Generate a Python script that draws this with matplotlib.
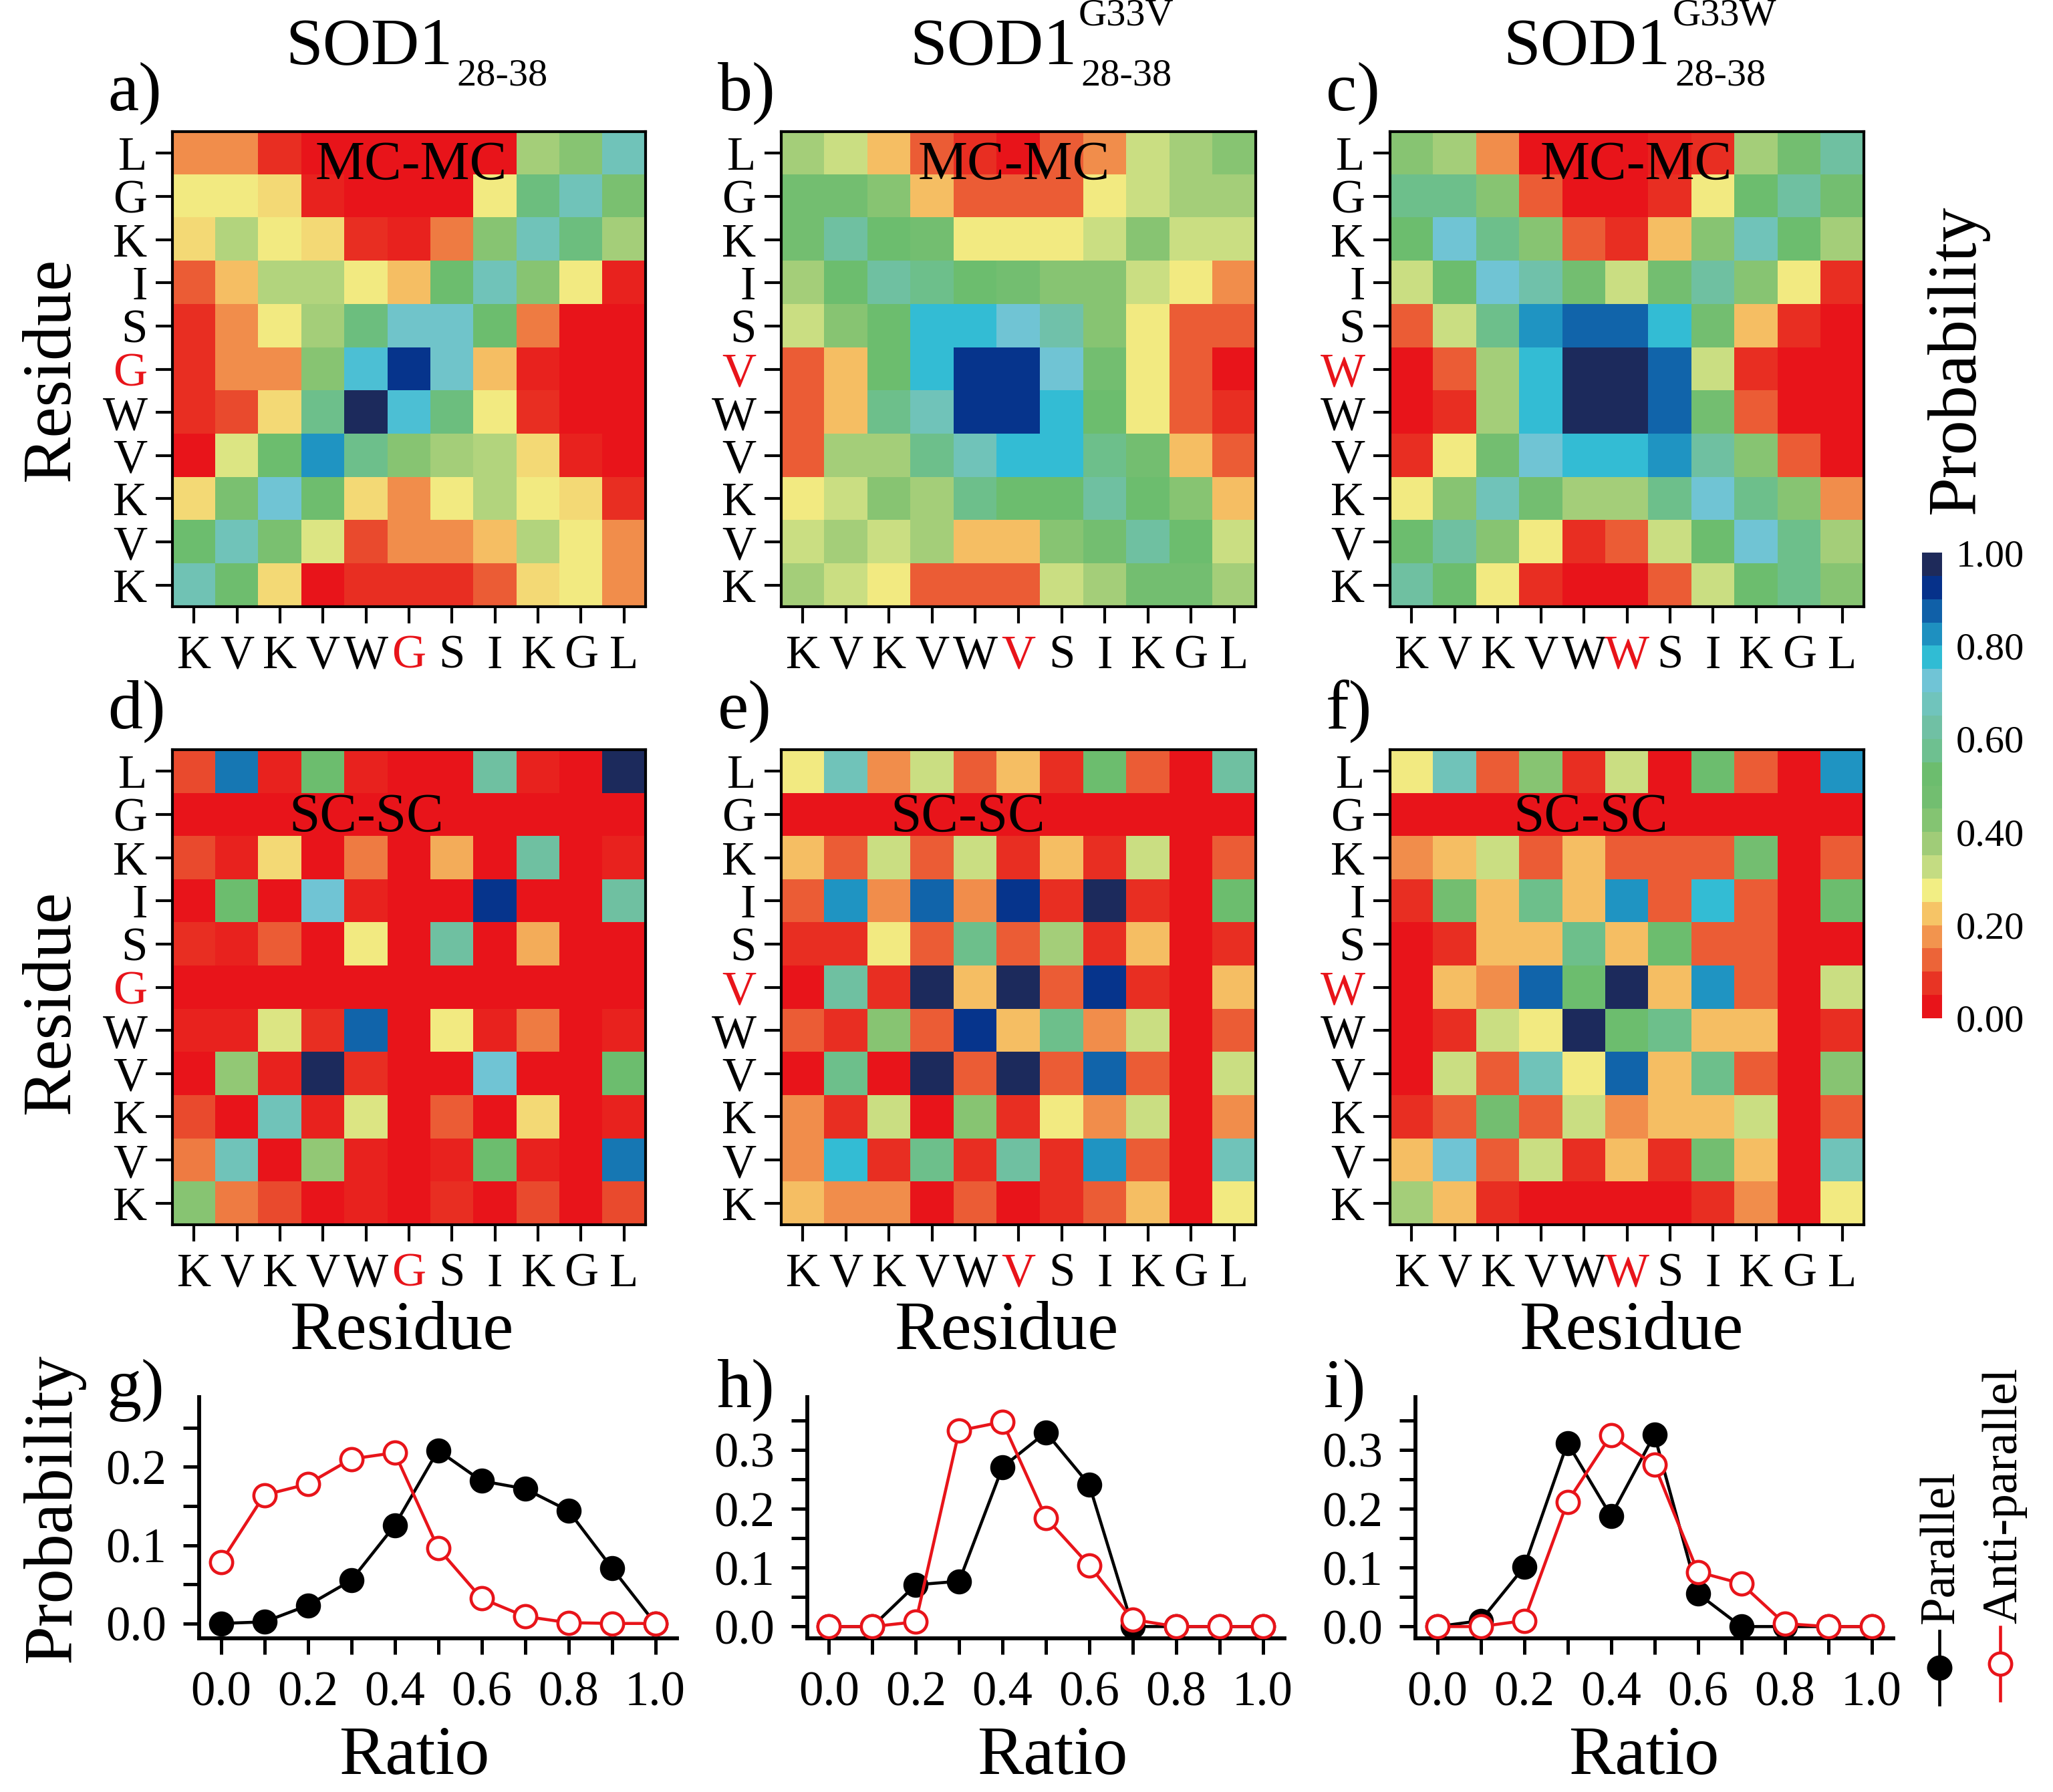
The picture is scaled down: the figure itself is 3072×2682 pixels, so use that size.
import matplotlib
matplotlib.use('Agg')
import matplotlib.pyplot as plt
import numpy as np
from matplotlib.colors import LinearSegmentedColormap, ListedColormap, BoundaryNorm
from matplotlib.cm import ScalarMappable
from matplotlib.lines import Line2D

plt.rcParams['font.family'] = 'Liberation Serif'

# ---------------- data ----------------
res_wt = ['K', 'V', 'K', 'V', 'W', 'G', 'S', 'I', 'K', 'G', 'L']
res_g33v = ['K', 'V', 'K', 'V', 'W', 'V', 'S', 'I', 'K', 'G', 'L']
res_g33w = ['K', 'V', 'K', 'V', 'W', 'W', 'S', 'I', 'K', 'G', 'L']
mut_index = 5

# contact probability maps, rows listed from top (L) to bottom (K)
mc_wt = [
    [.17, .17, .07, .02, .02, .02, .02, .02, .37, .42, .67],
    [.27, .27, .25, .05, .02, .02, .02, .27, .55, .67, .45],
    [.25, .35, .27, .25, .07, .05, .15, .42, .67, .55, .37],
    [.12, .22, .35, .35, .27, .22, .52, .67, .42, .27, .05],
    [.07, .17, .27, .37, .55, .70, .70, .52, .15, .02, .02],
    [.07, .17, .17, .42, .75, .92, .70, .22, .05, .02, .02],
    [.07, .10, .25, .57, .97, .75, .55, .27, .07, .02, .02],
    [.02, .30, .52, .82, .57, .42, .37, .35, .25, .05, .02],
    [.25, .45, .72, .50, .25, .17, .27, .35, .27, .25, .07],
    [.52, .67, .45, .30, .10, .17, .17, .22, .35, .27, .17],
    [.66, .50, .25, .02, .07, .07, .07, .12, .25, .27, .17],
]
mc_g33v = [
    [.37, .32, .22, .12, .07, .02, .12, .17, .32, .37, .42],
    [.47, .47, .42, .22, .12, .12, .12, .27, .32, .37, .37],
    [.47, .62, .52, .47, .27, .27, .27, .32, .42, .32, .32],
    [.37, .52, .62, .57, .52, .47, .42, .42, .32, .27, .17],
    [.32, .42, .52, .77, .77, .72, .64, .42, .27, .12, .12],
    [.12, .22, .52, .77, .92, .92, .72, .47, .27, .12, .02],
    [.12, .22, .57, .67, .92, .92, .77, .52, .27, .12, .07],
    [.12, .37, .37, .57, .67, .77, .77, .57, .47, .22, .12],
    [.27, .32, .42, .37, .57, .52, .52, .62, .52, .42, .22],
    [.32, .37, .32, .37, .22, .22, .42, .47, .62, .52, .32],
    [.37, .32, .27, .12, .12, .12, .32, .37, .47, .47, .37],
]
mc_g33w = [
    [.42, .37, .17, .02, .02, .02, .05, .07, .37, .47, .62],
    [.57, .57, .42, .12, .02, .02, .07, .27, .52, .62, .47],
    [.52, .72, .57, .42, .12, .07, .22, .42, .67, .52, .37],
    [.32, .52, .72, .64, .47, .32, .47, .62, .42, .27, .07],
    [.12, .32, .57, .82, .87, .87, .77, .47, .22, .07, .02],
    [.02, .12, .37, .77, .97, .97, .87, .32, .07, .02, .02],
    [.02, .07, .37, .77, .97, .97, .87, .47, .12, .02, .02],
    [.07, .27, .47, .72, .77, .77, .82, .62, .42, .12, .02],
    [.27, .42, .67, .47, .37, .37, .57, .72, .57, .42, .17],
    [.52, .62, .42, .27, .07, .12, .32, .52, .72, .57, .37],
    [.62, .52, .27, .07, .02, .02, .12, .32, .52, .57, .42],
]
sc_wt = [
    [.10, .85, .05, .52, .05, .02, .02, .62, .05, .02, .97],
    [.02, .02, .02, .02, .02, .02, .02, .02, .02, .02, .02],
    [.10, .05, .25, .02, .15, .02, .20, .02, .62, .02, .05],
    [.02, .52, .02, .72, .05, .02, .02, .92, .02, .02, .62],
    [.07, .05, .12, .02, .27, .02, .62, .02, .20, .02, .02],
    [.02, .02, .02, .02, .02, .02, .02, .02, .02, .02, .02],
    [.05, .05, .30, .07, .87, .02, .27, .05, .15, .02, .05],
    [.02, .40, .05, .97, .07, .02, .02, .72, .02, .02, .52],
    [.10, .02, .67, .05, .30, .02, .12, .02, .25, .02, .05],
    [.15, .67, .02, .40, .05, .02, .05, .52, .05, .02, .85],
    [.42, .15, .10, .02, .05, .02, .07, .02, .10, .02, .10],
]
sc_g33v = [
    [.27, .67, .17, .32, .12, .22, .07, .52, .12, .02, .62],
    [.02, .02, .02, .02, .02, .02, .02, .02, .02, .02, .02],
    [.22, .12, .32, .12, .32, .07, .22, .07, .32, .02, .12],
    [.12, .82, .17, .87, .17, .92, .07, .97, .07, .02, .52],
    [.07, .07, .27, .12, .57, .12, .37, .07, .22, .02, .07],
    [.02, .62, .07, .97, .22, .97, .12, .92, .07, .02, .22],
    [.12, .07, .42, .12, .92, .22, .57, .17, .32, .02, .12],
    [.02, .57, .02, .97, .12, .97, .12, .87, .12, .02, .32],
    [.17, .07, .32, .02, .42, .07, .27, .17, .32, .02, .17],
    [.17, .77, .07, .57, .07, .62, .07, .82, .12, .02, .67],
    [.22, .17, .17, .02, .12, .02, .07, .12, .22, .02, .27],
]
sc_g33w = [
    [.27, .67, .12, .42, .07, .32, .02, .52, .12, .02, .82],
    [.02, .02, .02, .02, .02, .02, .02, .02, .02, .02, .02],
    [.17, .22, .32, .12, .22, .12, .12, .12, .47, .02, .12],
    [.07, .47, .22, .57, .22, .82, .12, .77, .12, .02, .52],
    [.02, .07, .22, .22, .57, .22, .52, .12, .12, .02, .02],
    [.02, .22, .17, .87, .52, .97, .22, .82, .12, .02, .32],
    [.02, .07, .32, .27, .97, .52, .57, .22, .22, .02, .07],
    [.02, .32, .12, .67, .27, .87, .22, .57, .12, .02, .42],
    [.07, .12, .47, .12, .32, .17, .22, .22, .32, .02, .12],
    [.22, .72, .12, .32, .07, .22, .07, .47, .22, .02, .67],
    [.37, .22, .07, .02, .02, .02, .02, .07, .17, .02, .27],
]

ratio = [0.0, 0.1, 0.2, 0.3, 0.4, 0.5, 0.6, 0.7, 0.8, 0.9, 1.0]
ratio_labels = ['0.0', '', '0.2', '', '0.4', '', '0.6', '', '0.8', '', '1.0']
par_wt = [0.000, 0.002, 0.023, 0.055, 0.125, 0.221, 0.182, 0.172, 0.144, 0.071, 0.000]
anti_wt = [0.078, 0.164, 0.178, 0.210, 0.218, 0.096, 0.032, 0.009, 0.001, 0.000, 0.000]
par_g33v = [0.000, 0.000, 0.071, 0.077, 0.271, 0.330, 0.241, 0.000, 0.000, 0.000, 0.000]
anti_g33v = [0.000, 0.000, 0.008, 0.333, 0.348, 0.185, 0.104, 0.012, 0.000, 0.000, 0.000]
par_g33w = [0.000, 0.010, 0.101, 0.312, 0.188, 0.326, 0.056, 0.000, 0.000, 0.000, 0.000]
anti_g33w = [0.000, 0.000, 0.010, 0.212, 0.325, 0.275, 0.093, 0.073, 0.005, 0.000, 0.000]

# 20-step colour scale, 0.00 -> 1.00
level_colors = ['#e8141a', '#e83424', '#ec6438', '#f2944e', '#f6c466',
                '#f2ee84', '#c4dc82', '#a0cc78', '#84c472', '#72be70',
                '#6cbd6e', '#6ec090', '#70c0a4', '#70c4bc', '#70c4d6',
                '#30bcd4', '#1e90c0', '#1060a8', '#06318a', '#1e2a5a']
cbar_ticks = [0.0, 0.2, 0.4, 0.6, 0.8, 1.0]
cbar_labels = ['0.00', '0.20', '0.40', '0.60', '0.80', '1.00']

# ---------------- figure ----------------
W, H = 3072, 2682
fig = plt.figure(figsize=(W / 300, H / 300), dpi=300)


def rect(x0, y0, x1, y1):
    return [x0 / W, 1 - y1 / H, (x1 - x0) / W, (y1 - y0) / H]


def fpos(x, y):
    return x / W, 1 - y / H


stops = [(0.0, level_colors[0])]
for k, c in enumerate(level_colors):
    stops.append((0.025 + 0.05 * k, c))
stops.append((1.0, level_colors[-1]))
cmap = LinearSegmentedColormap.from_list('contact', stops)

col_x = [(258, 966), (1169, 1879), (2080, 2789)]
row_y = [(197, 908), (1122, 1833)]
maps = [[mc_wt, mc_g33v, mc_g33w], [sc_wt, sc_g33v, sc_g33w]]
seqs = [res_wt, res_g33v, res_g33w]
tags = ['MC-MC', 'SC-SC']
tag_x = [[0.505, 0.49, 0.52], [0.41, 0.393, 0.424]]
tag_y = [0.90, 0.829]
letters = [['a)', 'b)', 'c)'], ['d)', 'e)', 'f)']]
letter_x = [161, 1074, 1984]
letter_y = [165, 1090]

for r in range(2):
    for c in range(3):
        x0, x1 = col_x[c]
        y0, y1 = row_y[r]
        ax = fig.add_axes(rect(x0, y0, x1, y1))
        ax.imshow(np.array(maps[r][c]), cmap=cmap, vmin=0, vmax=1,
                  aspect='auto', interpolation='nearest', origin='upper')
        seq = seqs[c]
        ax.set_xticks(range(11))
        ax.set_xticklabels(seq)
        ax.set_yticks(range(11))
        ax.set_yticklabels(seq[::-1])
        ax.tick_params(direction='out', length=6, width=1, labelsize=17)
        ax.tick_params(axis='y', pad=3)
        ax.tick_params(axis='x', pad=4)
        ax.get_xticklabels()[mut_index].set_color('#e8141a')
        ax.get_yticklabels()[10 - mut_index].set_color('#e8141a')
        for s in ax.spines.values():
            s.set_linewidth(1.0)
        ax.text(tag_x[r][c], tag_y[r], tags[r], transform=ax.transAxes,
                ha='center', va='baseline', fontsize=20)
        fx, fy = fpos(letter_x[c], letter_y[r])
        fig.text(fx, fy, letters[r][c], ha='left', va='baseline', fontsize=25)

# column titles
title_right = [677, 1611, 2500]
sups = [None, 'G33V', 'G33W']
for c in range(3):
    fig.text(*fpos(title_right[c], 95), 'SOD1', ha='right', va='baseline', fontsize=24)
    fig.text(*fpos(title_right[c] + 6, 127), '28-38', ha='left', va='baseline', fontsize=14)
    if sups[c]:
        fig.text(*fpos(title_right[c] + 3, 37), sups[c], ha='left', va='baseline', fontsize=14)

# axis labels for heatmaps
fig.text(*fpos(78, 553), 'Residue', rotation=90, ha='center', va='center', fontsize=25)
fig.text(*fpos(78, 1500), 'Residue', rotation=90, ha='center', va='center', fontsize=25)
for xc in [601, 1506, 2441]:
    fig.text(*fpos(xc, 1994), 'Residue', ha='center', va='center', fontsize=25)

# colour bar
cax = fig.add_axes(rect(2876, 827, 2906, 1524))
sm = ScalarMappable(norm=BoundaryNorm(np.linspace(0, 1, 21), 20),
                    cmap=ListedColormap(level_colors))
cb = fig.colorbar(sm, cax=cax, ticks=cbar_ticks)
cb.ax.minorticks_off()
cb.ax.set_yticklabels(cbar_labels)
cb.ax.tick_params(which='both', length=0, labelsize=14, pad=5)
cb.outline.set_visible(False)
fig.text(*fpos(2929, 539), 'Probability', rotation=90, ha='center', va='center', fontsize=25)

# ratio distributions
line_x = [(298, 1013), (1208, 1922), (2118, 2833)]
pars = [par_wt, par_g33v, par_g33w]
antis = [anti_wt, anti_g33v, anti_g33w]
ylims = [(-0.019, 0.289), (-0.02, 0.39), (-0.02, 0.39)]
ymajor = [[0.0, 0.1, 0.2], [0.0, 0.1, 0.2, 0.3], [0.0, 0.1, 0.2, 0.3]]
yminor = [[0.05, 0.15, 0.25], [0.05, 0.15, 0.25, 0.35], [0.05, 0.15, 0.25, 0.35]]
line_letters = ['g)', 'h)', 'i)']
line_letter_x = [160, 1073, 1981]
ratio_label_x = [620, 1575, 2460]

for c in range(3):
    ax = fig.add_axes(rect(line_x[c][0], 2091, line_x[c][1], 2452))
    ax.plot(ratio, pars[c], '-o', color='black', lw=1.1, ms=8,
            markerfacecolor='black', zorder=3)
    ax.plot(ratio, antis[c], '-o', color='#e8141a', lw=1.1, ms=8,
            markerfacecolor='white', markeredgewidth=1.1, zorder=4)
    ax.set_xlim(-0.05, 1.05)
    ax.set_ylim(*ylims[c])
    ax.set_xticks(ratio)
    ax.set_xticklabels(ratio_labels)
    ax.set_yticks(ymajor[c])
    ax.set_yticklabels(['%.1f' % v for v in ymajor[c]])
    ax.set_yticks(yminor[c], minor=True)
    ax.spines['top'].set_visible(False)
    ax.spines['right'].set_visible(False)
    ax.spines['left'].set_linewidth(1.4)
    ax.spines['bottom'].set_linewidth(1.4)
    ax.tick_params(which='both', direction='out', length=5.8, width=1.2,
                   labelsize=17.5, pad=6)
    fig.text(*fpos(line_letter_x[c], 2106), line_letters[c], ha='left', va='baseline', fontsize=25)
    fig.text(*fpos(ratio_label_x[c], 2630), 'Ratio', ha='center', va='center', fontsize=25)

fig.text(*fpos(80, 2258), 'Probability', rotation=90, ha='center', va='center', fontsize=25)

# vertical legend
for xt, xl, ymid, label, col, face in [(2906, 2902, 2496, 'Parallel', 'black', 'black'),
                                      (2999, 2993, 2490, 'Anti-parallel', '#e8141a', 'white')]:
    fig.text(*fpos(xt, 2430), label, rotation=90, ha='center', va='bottom', fontsize=18)
    fig.add_artist(Line2D([xl / W, xl / W], [1 - (ymid - 55) / H, 1 - (ymid + 55) / H],
                          color=col, lw=1.1, transform=fig.transFigure))
    fig.add_artist(Line2D([xl / W], [1 - ymid / H], marker='o', ms=8, color=col,
                          markerfacecolor=face, markeredgewidth=1.1, transform=fig.transFigure))

fig.savefig('out.png', dpi=300)
